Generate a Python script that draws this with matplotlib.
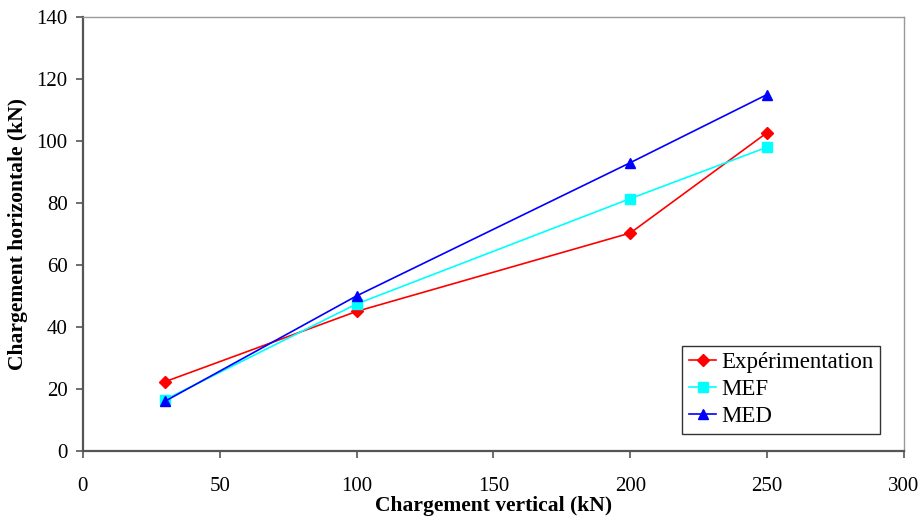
import matplotlib
matplotlib.use("Agg")
import matplotlib.pyplot as plt

charge_v = [30, 100, 200, 250]
experimentation = [22.3, 45.0, 70.3, 102.7]
mef = [16.5, 47.4, 81.4, 98.0]
med = [16.0, 50.0, 93.0, 115.0]

x_ticks = [0, 50, 100, 150, 200, 250, 300]
y_ticks = [0, 20, 40, 60, 80, 100, 120, 140]

plt.rcParams['font.family'] = ['Liberation Serif', 'DejaVu Serif']

fig = plt.figure(figsize=(9.21, 5.17), dpi=100)
ax = fig.add_axes([0.090, 0.128, 0.8915, 0.839])

ax.plot(charge_v, experimentation, color="#ff0000", marker="D", markersize=6, linewidth=1.2,
        label="Expérimentation")
ax.plot(charge_v, mef, color="#00ffff", marker="s", markersize=7, linewidth=1.2, label="MEF")
ax.plot(charge_v, med, color="#0000ff", marker="^", markersize=7, linewidth=1.2, label="MED")

ax.set_xlim(0, 300)
ax.set_ylim(0, 140)
ax.set_xticks(x_ticks)
ax.set_yticks(y_ticks)
ax.tick_params(axis='both', labelsize=15, direction='out', length=5, color="#555555", width=1.2)
ax.tick_params(axis='x', pad=14)
ax.tick_params(axis='y', pad=6)

for side in ['left', 'bottom']:
    ax.spines[side].set_color("#555555")
    ax.spines[side].set_linewidth(1.6)
for side in ['top', 'right']:
    ax.spines[side].set_color("#999999")
    ax.spines[side].set_linewidth(1.0)

ax.set_xlabel("Chargement vertical (kN)", fontsize=15.5, fontweight='bold', labelpad=0)
ax.set_ylabel("Chargement horizontale (kN)", fontsize=15.5, fontweight='bold', labelpad=6)

leg = ax.legend(loc='lower right', bbox_to_anchor=(0.971, 0.039), fontsize=16.5, frameon=True,
                fancybox=False, edgecolor='black', handlelength=1.2, handletextpad=0.2,
                borderpad=0.3, labelspacing=0.25, borderaxespad=0)
leg.get_frame().set_linewidth(1.0)

plt.savefig("out.png", dpi=100)
plt.close()
